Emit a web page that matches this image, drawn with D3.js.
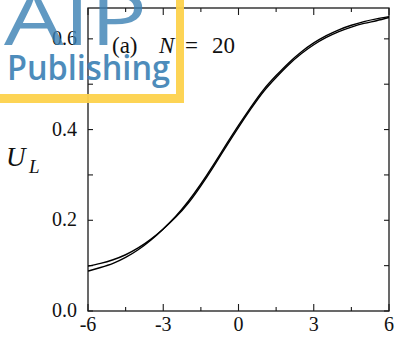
<!DOCTYPE html>
<html>
<head>
<meta charset="utf-8">
<script src="https://cdn.jsdelivr.net/npm/d3@7"></script>
<style>
  html, body { margin: 0; padding: 0; background: #fff; }
  svg { display: block; }
</style>
</head>
<body>
<svg id="chart" width="396" height="344"></svg>
<script>
// Field values (x axis) and the two U_L curves for N = 20
const fieldValues = [-6, -5.5, -5, -4.5, -4, -3.5, -3, -2.5, -2, -1.5, -1, -0.5, 0,
                     0.5, 1, 1.5, 2, 2.5, 3, 3.5, 4, 4.5, 5, 5.5, 6];
const curveA = [0.099, 0.105, 0.113, 0.124, 0.139, 0.158, 0.181, 0.207, 0.238, 0.276, 0.318, 0.362, 0.405,
                0.446, 0.484, 0.515, 0.543, 0.567, 0.587, 0.603, 0.616, 0.626, 0.634, 0.640, 0.647];
const curveB = [0.088, 0.096, 0.105, 0.118, 0.135, 0.156, 0.181, 0.209, 0.242, 0.280, 0.322, 0.366, 0.409,
                0.450, 0.488, 0.519, 0.547, 0.571, 0.591, 0.607, 0.620, 0.630, 0.638, 0.644, 0.649];

const xMajorTicks = [-6, -3, 0, 3, 6];
const xMinorTicks = [-4.5, -1.5, 1.5, 4.5];
const xTickLabels = ["-6", "-3", "0", "3", "6"];
const yMajorTicks = [0, 0.2, 0.4, 0.6];
const yMinorTicks = [0.1, 0.3, 0.5];
const yTickLabels = ["0.0", "0.2", "0.4", "0.6"];

const svg = d3.select("#chart");
const plotLeft = 88, plotRight = 389, plotTop = 8, plotBottom = 311;

const x = d3.scaleLinear().domain([-6, 6]).range([plotLeft, plotRight]);
const y = d3.scaleLinear().domain([0, 0.668]).range([plotBottom, plotTop]);

const serif = "'Liberation Serif', 'Times New Roman', serif";

// frame
svg.append("rect")
  .attr("x", plotLeft).attr("y", plotTop)
  .attr("width", plotRight - plotLeft).attr("height", plotBottom - plotTop)
  .attr("fill", "none").attr("stroke", "#1a1a1a").attr("stroke-width", 1.3);

// inward ticks: bottom & top
const tickStyle = s => s.attr("stroke", "#1a1a1a").attr("stroke-width", 1.1);
function xTicks(vals, len) {
  svg.append("g").selectAll("line").data(vals).join("line")
    .attr("x1", d => x(d)).attr("x2", d => x(d))
    .attr("y1", plotBottom).attr("y2", plotBottom - len).call(tickStyle);
  svg.append("g").selectAll("line").data(vals).join("line")
    .attr("x1", d => x(d)).attr("x2", d => x(d))
    .attr("y1", plotTop).attr("y2", plotTop + len).call(tickStyle);
}
xTicks(xMajorTicks, 7);
xTicks(xMinorTicks, 4);

// inward ticks: left & right
function yTicks(vals, len) {
  svg.append("g").selectAll("line").data(vals).join("line")
    .attr("x1", plotLeft).attr("x2", plotLeft + len)
    .attr("y1", d => y(d)).attr("y2", d => y(d)).call(tickStyle);
  svg.append("g").selectAll("line").data(vals).join("line")
    .attr("x1", plotRight).attr("x2", plotRight - len)
    .attr("y1", d => y(d)).attr("y2", d => y(d)).call(tickStyle);
}
yTicks(yMajorTicks, 5);
yTicks(yMinorTicks, 5);

// tick labels
svg.append("g").selectAll("text").data(xMajorTicks).join("text")
  .attr("x", d => x(d)).attr("y", 331)
  .attr("text-anchor", "middle")
  .attr("font-family", serif).attr("font-size", 20).attr("fill", "#111")
  .text((d, i) => xTickLabels[i]);

svg.append("g").selectAll("text").data(yMajorTicks).join("text")
  .attr("x", 77).attr("y", d => y(d) + 6)
  .attr("text-anchor", "end")
  .attr("font-family", serif).attr("font-size", 20).attr("fill", "#111")
  .text((d, i) => yTickLabels[i]);

// y axis title U_L
const yTitle = svg.append("text")
  .attr("font-family", serif).attr("fill", "#111").attr("font-style", "italic");
yTitle.append("tspan").attr("x", 6).attr("y", 166).attr("font-size", 27).text("U");
yTitle.append("tspan").attr("x", 29).attr("y", 173).attr("font-size", 19).text("L");

// curves
svg.append("clipPath").attr("id", "plotClip")
  .append("rect").attr("x", plotLeft).attr("y", plotTop)
  .attr("width", plotRight - plotLeft).attr("height", plotBottom - plotTop);

const line = d3.line()
  .x((d, i) => x(fieldValues[i]))
  .y(d => y(d))
  .curve(d3.curveNatural);

const curves = svg.append("g").attr("clip-path", "url(#plotClip)");
[curveA, curveB].forEach(series => {
  curves.append("path")
    .datum(series)
    .attr("d", line)
    .attr("fill", "none")
    .attr("stroke", "#000")
    .attr("stroke-width", 1.4);
});

// panel label
const panel = svg.append("g").attr("font-family", serif).attr("font-size", 23).attr("fill", "#111");
panel.append("text").attr("x", 112).attr("y", 53).text("(a)");
panel.append("text").attr("x", 159).attr("y", 53).attr("font-style", "italic").text("N");
panel.append("text").attr("x", 185).attr("y", 53).text("=");
panel.append("text").attr("x", 212).attr("y", 53).text("20");

// publisher badge in the corner
const badge = svg.append("g");
badge.append("path")
  .attr("d", "M0,94 H176 V0 H184 V103 H0 Z")
  .attr("fill", "#fdd24c").attr("opacity", 0.95);
badge.append("text")
  .attr("x", 4).attr("y", 45)
  .attr("font-family", "'Open Sans', 'DejaVu Sans', sans-serif")
  .attr("font-size", 74).attr("font-weight", 500)
  .attr("textLength", 143).attr("lengthAdjust", "spacingAndGlyphs")
  .attr("fill", "#3a80b4").attr("opacity", 0.8)
  .text("AIP");
badge.append("text")
  .attr("x", 7).attr("y", 80)
  .attr("font-family", "'Open Sans', 'DejaVu Sans', sans-serif")
  .attr("font-size", 35).attr("font-weight", 600)
  .attr("textLength", 163).attr("lengthAdjust", "spacingAndGlyphs")
  .attr("fill", "#3a80b4").attr("opacity", 0.9)
  .text("Publishing");
</script>
</body>
</html>
